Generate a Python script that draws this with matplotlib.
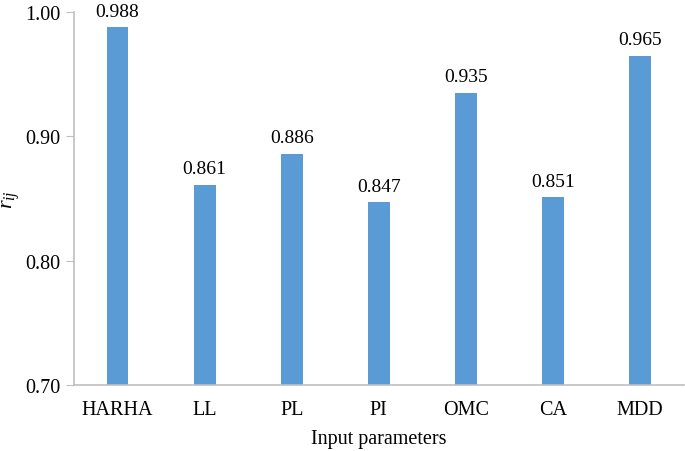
import numpy as np
import matplotlib.pyplot as plt

params = ["HARHA", "LL", "PL", "PI", "OMC", "CA", "MDD"]
r_vals = [0.988, 0.861, 0.886, 0.847, 0.935, 0.851, 0.965]

plt.rcParams['font.family'] = ['Liberation Serif', 'DejaVu Serif']
plt.rcParams['mathtext.fontset'] = 'custom'
plt.rcParams['mathtext.it'] = 'Liberation Serif:italic'
plt.rcParams['mathtext.rm'] = 'Liberation Serif'

fig = plt.figure(figsize=(6.85, 4.52), dpi=100)
ax = fig.add_axes([0.108, 0.146, 0.890, 0.825])

x = np.arange(len(params))
ax.bar(x, r_vals, width=0.25, color="#5B9BD5", zorder=2)
for xi, v in zip(x, r_vals):
    ax.text(xi, v + 0.006, "%.3f" % v, ha="center", va="bottom", fontsize=14)

ax.set_xlim(-0.5, len(params) - 0.5)
ax.set_ylim(0.70, 1.00)
ax.set_yticks([0.70, 0.80, 0.90, 1.00])
ax.set_yticklabels(["0.70", "0.80", "0.90", "1.00"])
ax.set_xticks(x)
ax.set_xticklabels(params)
ax.tick_params(axis="x", length=0, labelsize=14.5, pad=11)
ax.tick_params(axis="y", length=6, color="#BFBFBF", labelsize=14.5, pad=4)

for s in ["top", "right"]:
    ax.spines[s].set_visible(False)
for s in ["left", "bottom"]:
    ax.spines[s].set_color("#BFBFBF")
    ax.spines[s].set_linewidth(1.2)

ax.set_xlabel("Input parameters", fontsize=14.5, labelpad=7)
ax.set_ylabel(r"$r_{ij}$", fontsize=16, labelpad=2)

fig.savefig("out.png", dpi=100)
